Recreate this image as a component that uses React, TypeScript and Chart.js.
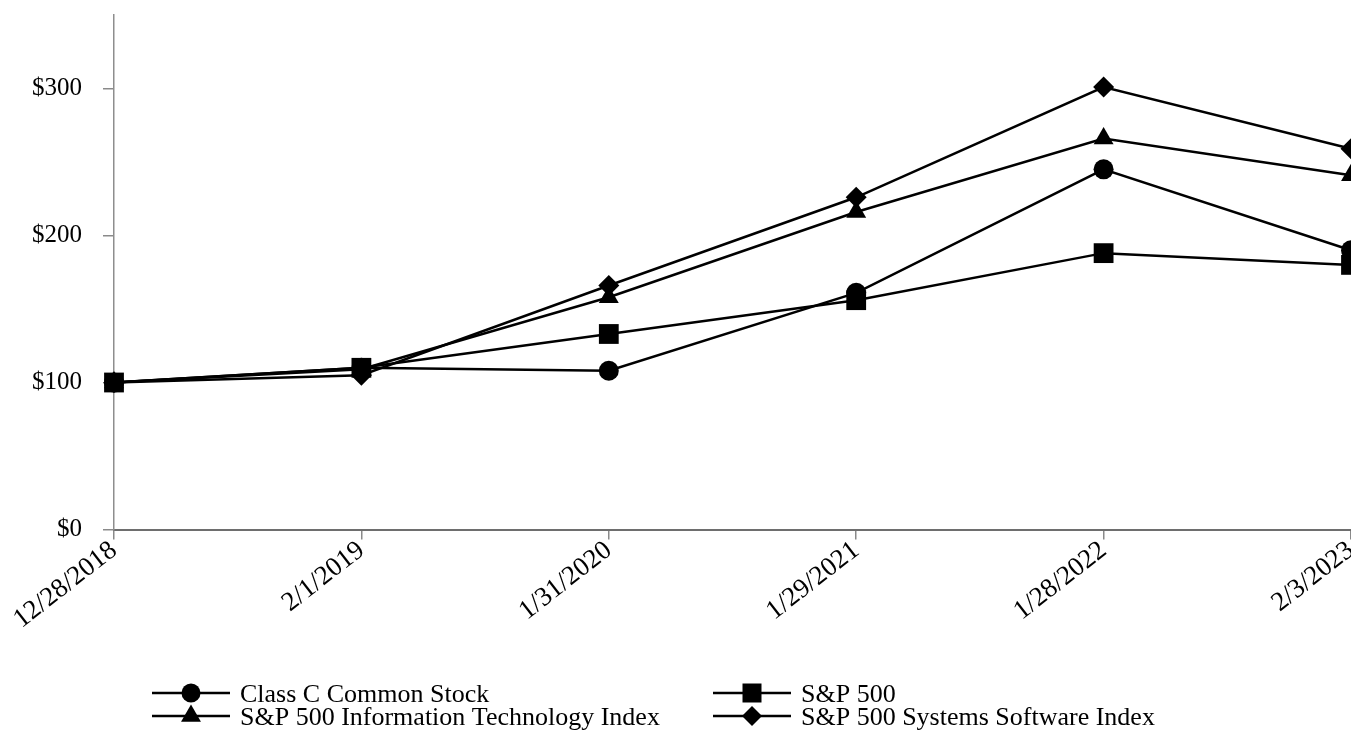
import React, { useEffect, useRef } from "react";
import { Chart, registerables } from "chart.js";

Chart.register(...registerables);

const categories = ["12/28/2018", "2/1/2019", "1/31/2020", "1/29/2021", "1/28/2022", "2/3/2023"];
const classC = [100, 110, 108, 161, 245, 190];
const sp500 = [100, 110, 133, 156, 188, 180];
const spIT = [100, 109, 158, 216, 266, 241];
const spSoftware = [100, 105, 166, 226, 301, 259];
const seriesLabels = [
  "Class C Common Stock",
  "S&P 500",
  "S&P 500 Information Technology Index",
  "S&P 500 Systems Software Index",
];
const yTicks = [0, 100, 200, 300];

const FONT = "'Liberation Serif', 'Times New Roman', serif";

const legendPlugin = {
  id: "customLegend",
  afterDraw(chart: any) {
    const ctx = chart.ctx;
    const colX = [152, 713];
    const rowY = [693, 716];
    ctx.save();
    chart.data.datasets.forEach((ds: any, i: number) => {
      const x = colX[i % 2];
      const y = rowY[Math.floor(i / 2)];
      ctx.strokeStyle = "#000";
      ctx.lineWidth = 2.5;
      ctx.beginPath();
      ctx.moveTo(x, y);
      ctx.lineTo(x + 78, y);
      ctx.stroke();
      const cx = x + 39;
      ctx.fillStyle = "#000";
      ctx.beginPath();
      const st = ds.pointStyle;
      if (st === "circle") {
        ctx.arc(cx, y, 9.5, 0, Math.PI * 2);
      } else if (st === "rect") {
        ctx.rect(cx - 9.5, y - 9.5, 19, 19);
      } else if (st === "triangle") {
        const r = 11.5;
        ctx.moveTo(cx, y - r);
        ctx.lineTo(cx + r * Math.sin(Math.PI / 3), y + r / 2);
        ctx.lineTo(cx - r * Math.sin(Math.PI / 3), y + r / 2);
        ctx.closePath();
      } else {
        const r = 10;
        ctx.moveTo(cx, y - r);
        ctx.lineTo(cx + r, y);
        ctx.lineTo(cx, y + r);
        ctx.lineTo(cx - r, y);
        ctx.closePath();
      }
      ctx.fill();
      ctx.font = "26px " + FONT;
      ctx.textBaseline = "alphabetic";
      ctx.textAlign = "left";
      ctx.fillText(ds.label, x + 88, y + 8.5);
    });
    ctx.restore();
  },
};

export default function App() {
  const ref = useRef<HTMLCanvasElement>(null);
  useEffect(() => {
    if (!ref.current) return;
    const mk = (label: string, data: number[], style: string, radius: number) => ({
      label,
      data,
      borderColor: "#000",
      backgroundColor: "#000",
      borderWidth: 2.5,
      pointStyle: style,
      pointRadius: radius,
      pointBorderWidth: 0,
      pointBackgroundColor: "#000",
      tension: 0,
      clip: false as any,
    });
    const chart = new Chart(ref.current, {
      type: "line",
      data: {
        labels: categories,
        datasets: [
          mk(seriesLabels[0], classC, "circle", 10),
          mk(seriesLabels[1], sp500, "rect", 14),
          mk(seriesLabels[2], spIT, "triangle", 11.5),
          mk(seriesLabels[3], spSoftware, "rectRot", 10.5),
        ],
      },
      options: {
        animation: false,
        responsive: true,
        maintainAspectRatio: false,
        layout: { padding: { top: 15, right: 49, bottom: 58.5, left: 0 } },
        plugins: { legend: { display: false }, tooltip: { enabled: false } },
        scales: {
          x: {
            offset: false,
            grid: { drawOnChartArea: false, drawTicks: true, tickLength: 10, color: "#8a8a8a", lineWidth: 1.5 },
            border: { color: "#6e6e6e", width: 2 },
            ticks: {
              color: "#000",
              font: { family: FONT, size: 27 },
              maxRotation: 38,
              minRotation: 38,
              autoSkip: false,
              padding: -5,
            },
            afterFit(scale: any) {
              scale.height = 150;
              scale.paddingLeft = 0;
              scale.paddingRight = 0;
            },
          },
          y: {
            min: 0,
            max: 350,
            grid: { drawOnChartArea: false, drawTicks: true, tickLength: 11, color: "#8a8a8a", lineWidth: 1.5 },
            border: { color: "#8e8e8e", width: 1.5 },
            afterBuildTicks(scale: any) {
              scale.ticks = yTicks.map((v) => ({ value: v }));
            },
            ticks: {
              color: "#000",
              font: { family: FONT, size: 25 },
              padding: 21,
              callback: (v: any) => "$" + v,
            },
            afterFit(scale: any) {
              scale.width = 114;
              scale.paddingTop = 0;
              scale.paddingBottom = 0;
            },
          },
        },
      },
      plugins: [legendPlugin],
    });
    return () => chart.destroy();
  }, []);
  return (
    <div style={{ position: "fixed", left: 0, top: 0, width: 1351, height: 738, overflow: "hidden", background: "#fff" }}>
      <div style={{ position: "relative", width: 1400, height: 738 }}>
        <canvas ref={ref} />
      </div>
    </div>
  );
}
